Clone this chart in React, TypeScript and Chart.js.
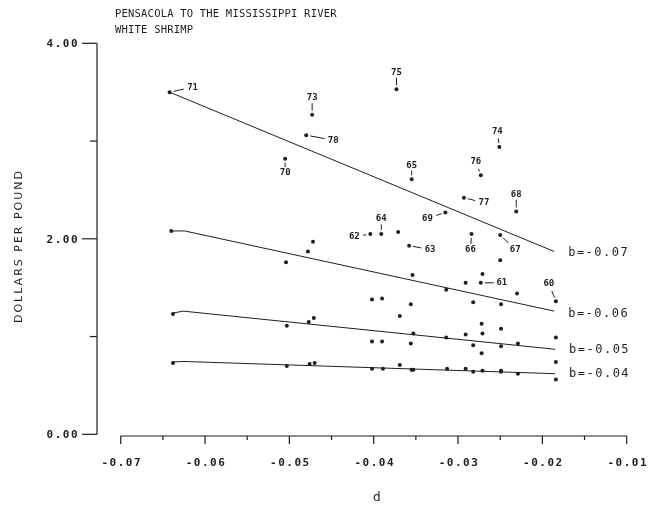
import React, { useEffect, useRef } from "react";
import { Chart, registerables } from "chart.js";

Chart.register(...registerables);

// ---- data ----
const yearD = [-0.0642, -0.0473, -0.048, -0.0505, -0.0373, -0.0251, -0.0273, -0.0355, -0.0293, -0.0231, -0.0315, -0.0391, -0.0404, -0.0358, -0.0284, -0.025, -0.0273, -0.0184];
const yearPrice = [3.5, 3.27, 3.06, 2.82, 3.53, 2.94, 2.65, 2.61, 2.42, 2.28, 2.27, 2.05, 2.05, 1.93, 2.05, 2.04, 1.55, 1.36];
const yearLabels = ["71", "73", "78", "70", "75", "74", "76", "65", "77", "68", "69", "64", "62", "63", "66", "67", "61", "60"];

const otherD = [-0.064, -0.0472, -0.0478, -0.0504, -0.0371, -0.025, -0.0354, -0.0271, -0.0291, -0.0314, -0.023, -0.0402, -0.039, -0.0356, -0.0282, -0.0249, -0.0638, -0.0471, -0.0477, -0.0503, -0.0369, -0.0272, -0.0249, -0.0353, -0.0314, -0.0291, -0.0271, -0.0184, -0.0402, -0.039, -0.0356, -0.0282, -0.0249, -0.0229, -0.0272, -0.0184, -0.0369, -0.0638, -0.0503, -0.0476, -0.047, -0.0402, -0.0389, -0.0355, -0.0353, -0.0313, -0.0291, -0.0282, -0.0271, -0.0249, -0.0249, -0.0229, -0.0184];
const otherPrice = [2.08, 1.97, 1.87, 1.76, 2.07, 1.78, 1.63, 1.64, 1.55, 1.48, 1.44, 1.38, 1.39, 1.33, 1.35, 1.33, 1.23, 1.19, 1.15, 1.11, 1.21, 1.13, 1.08, 1.03, 0.99, 1.02, 1.03, 0.99, 0.95, 0.95, 0.93, 0.91, 0.9, 0.93, 0.83, 0.74, 0.71, 0.73, 0.7, 0.72, 0.73, 0.67, 0.67, 0.66, 0.66, 0.67, 0.67, 0.64, 0.65, 0.65, 0.64, 0.62, 0.56];

const lineB07D = [-0.0642, -0.0186];
const lineB07P = [3.5, 1.87];
const lineB06D = [-0.064, -0.0624, -0.0186];
const lineB06P = [2.08, 2.08, 1.26];
const lineB05D = [-0.0638, -0.0626, -0.0185];
const lineB05P = [1.24, 1.26, 0.87];
const lineB04D = [-0.0638, -0.0625, -0.0185];
const lineB04P = [0.74, 0.745, 0.62];
const lineLabels = ["b=-0.07", "b=-0.06", "b=-0.05", "b=-0.04"];

const xMajorTicks = [-0.07, -0.06, -0.05, -0.04, -0.03, -0.02, -0.01];
const xMinorTicks = [-0.065, -0.055, -0.045, -0.035, -0.025, -0.015];
const xTickLabels = ["-0.07", "-0.06", "-0.05", "-0.04", "-0.03", "-0.02", "-0.01"];
const yMajorTicks = [0, 2, 4];
const yMinorTicks = [1, 3];
const yTickLabels = ["0.00", "2.00", "4.00"];

const titleLines = ["PENSACOLA TO THE MISSISSIPPI RIVER", "WHITE SHRIMP"];
const yTitle = "DOLLARS PER POUND";
const xTitle = "d";

// label placement (pixel offsets of year labels from their points)
const labelOffsets = [[23, -5], [0, -17], [27, 5], [0, 14], [0, -17], [-2, -15], [-5, -14], [0, -14], [20, 5], [0, -17], [-18, 6], [0, -15], [-16, 3], [21, 4], [-1, 16], [15, 15], [21, 0], [-7, -18]];

const toXY = (d: number[], p: number[]) => d.map((v, i) => ({ x: v, y: p[i] }));

const INK = "#1e1e1e";

const decorPlugin = {
  id: "decor",
  afterDraw(chart: any) {
    const ctx = chart.ctx as CanvasRenderingContext2D;
    const xs = chart.scales.x;
    const ys = chart.scales.y;
    ctx.save();
    ctx.strokeStyle = INK;
    ctx.fillStyle = INK;
    ctx.lineWidth = 1.2;

    // y axis (detached)
    const yAxisX = 97;
    ctx.beginPath();
    ctx.moveTo(yAxisX, ys.getPixelForValue(4));
    ctx.lineTo(yAxisX, ys.getPixelForValue(0));
    ctx.stroke();
    yMajorTicks.forEach((v) => {
      const py = ys.getPixelForValue(v);
      ctx.beginPath();
      ctx.moveTo(yAxisX - 15, py);
      ctx.lineTo(yAxisX, py);
      ctx.stroke();
    });
    yMinorTicks.forEach((v) => {
      const py = ys.getPixelForValue(v);
      ctx.beginPath();
      ctx.moveTo(yAxisX - 7, py);
      ctx.lineTo(yAxisX, py);
      ctx.stroke();
    });
    ctx.font = "bold 11px 'DejaVu Sans Mono'";
    (ctx as any).letterSpacing = "1.5px";
    ctx.textAlign = "right";
    ctx.textBaseline = "middle";
    yMajorTicks.forEach((v, i) => {
      ctx.fillText(yTickLabels[i], 79, ys.getPixelForValue(v) + 1);
    });

    // x axis (detached)
    const xAxisY = 436;
    ctx.beginPath();
    ctx.moveTo(xs.getPixelForValue(-0.07), xAxisY);
    ctx.lineTo(xs.getPixelForValue(-0.01), xAxisY);
    ctx.stroke();
    xMajorTicks.forEach((v) => {
      const px = xs.getPixelForValue(v);
      ctx.beginPath();
      ctx.moveTo(px, xAxisY);
      ctx.lineTo(px, xAxisY + 8);
      ctx.stroke();
    });
    xMinorTicks.forEach((v) => {
      const px = xs.getPixelForValue(v);
      ctx.beginPath();
      ctx.moveTo(px, xAxisY);
      ctx.lineTo(px, xAxisY + 4);
      ctx.stroke();
    });
    ctx.textAlign = "center";
    xMajorTicks.forEach((v, i) => {
      ctx.fillText(xTickLabels[i], xs.getPixelForValue(v) + 1, 463);
    });

    // x title
    ctx.font = "12px 'DejaVu Sans'";
    (ctx as any).letterSpacing = "0px";
    ctx.fillText(xTitle, xs.getPixelForValue(-0.04) + 3, 498);

    // y title
    ctx.save();
    ctx.translate(19, 246);
    ctx.rotate(-Math.PI / 2);
    ctx.font = "11px 'DejaVu Sans'";
    (ctx as any).letterSpacing = "2px";
    ctx.textAlign = "center";
    ctx.fillText(yTitle, 0, 0);
    ctx.restore();

    // main title
    ctx.font = "10.5px 'DejaVu Sans Mono'";
    (ctx as any).letterSpacing = "0.2px";
    ctx.textAlign = "left";
    ctx.fillText(titleLines[0], 115, 14);
    ctx.fillText(titleLines[1], 115, 30);

    // year labels with leaders
    ctx.font = "bold 9px 'DejaVu Sans Mono'";
    (ctx as any).letterSpacing = "0px";
    ctx.textAlign = "center";
    ctx.lineWidth = 1;
    yearD.forEach((d, i) => {
      const px = xs.getPixelForValue(d);
      const py = ys.getPixelForValue(yearPrice[i]);
      const [ox, oy] = labelOffsets[i];
      const lx = px + ox;
      const ly = py + oy;
      const len = Math.hypot(ox, oy);
      const ux = ox / len;
      const uy = oy / len;
      const r = Math.abs(ux) * 8 + Math.abs(uy) * 5.5;
      ctx.beginPath();
      ctx.moveTo(px + ux * 4, py + uy * 4);
      ctx.lineTo(lx - ux * r, ly - uy * r);
      ctx.stroke();
      ctx.fillText(yearLabels[i], lx, ly);
    });

    // line labels
    const ends = [
      [lineB07D[lineB07D.length - 1], lineB07P[lineB07P.length - 1]],
      [lineB06D[lineB06D.length - 1], lineB06P[lineB06P.length - 1]],
      [lineB05D[lineB05D.length - 1], lineB05P[lineB05P.length - 1]],
      [lineB04D[lineB04D.length - 1], lineB04P[lineB04P.length - 1]],
    ];
    const shifts = [1, 2.5, 0.5, 0.5];
    ctx.font = "12px 'DejaVu Sans Mono'";
    (ctx as any).letterSpacing = "1.5px";
    ctx.textAlign = "left";
    ends.forEach(([d, p], i) => {
      ctx.fillText(lineLabels[i], xs.getPixelForValue(d) + 14, ys.getPixelForValue(p) + shifts[i]);
    });

    ctx.restore();
  },
};

export default function App() {
  const ref = useRef<HTMLCanvasElement | null>(null);
  useEffect(() => {
    document.body.style.margin = "0";
    if (!ref.current) return;
    const lineDs = (d: number[], p: number[]) => ({
      type: "line" as const,
      data: toXY(d, p),
      borderColor: INK,
      borderWidth: 1,
      pointRadius: 0,
      showLine: true,
      fill: false,
      tension: 0,
      clip: false as any,
    });
    const chart = new Chart(ref.current, {
      type: "scatter",
      data: {
        datasets: [
          lineDs(lineB07D, lineB07P),
          lineDs(lineB06D, lineB06P),
          lineDs(lineB05D, lineB05P),
          lineDs(lineB04D, lineB04P),
          {
            data: toXY(yearD, yearPrice),
            backgroundColor: INK,
            borderColor: INK,
            pointRadius: 2,
            borderWidth: 0,
            clip: false as any,
          },
          {
            data: toXY(otherD, otherPrice),
            backgroundColor: INK,
            borderColor: INK,
            pointRadius: 2,
            borderWidth: 0,
            clip: false as any,
          },
        ] as any,
      },
      options: {
        animation: false,
        responsive: false,
        maintainAspectRatio: false,
        layout: { padding: { left: 120.7, right: 26.3, top: 43.3, bottom: 71.7 } },
        plugins: { legend: { display: false }, tooltip: { enabled: false } },
        scales: {
          x: { type: "linear", min: -0.07, max: -0.01, display: false },
          y: { type: "linear", min: 0, max: 4, display: false },
        },
      },
      plugins: [decorPlugin],
    });
    return () => chart.destroy();
  }, []);
  return (
    <div style={{ position: "fixed", left: 0, top: 0, width: 653, height: 506, background: "#fff" }}>
      <canvas ref={ref} width={653} height={506} style={{ width: 653, height: 506 }} />
    </div>
  );
}
